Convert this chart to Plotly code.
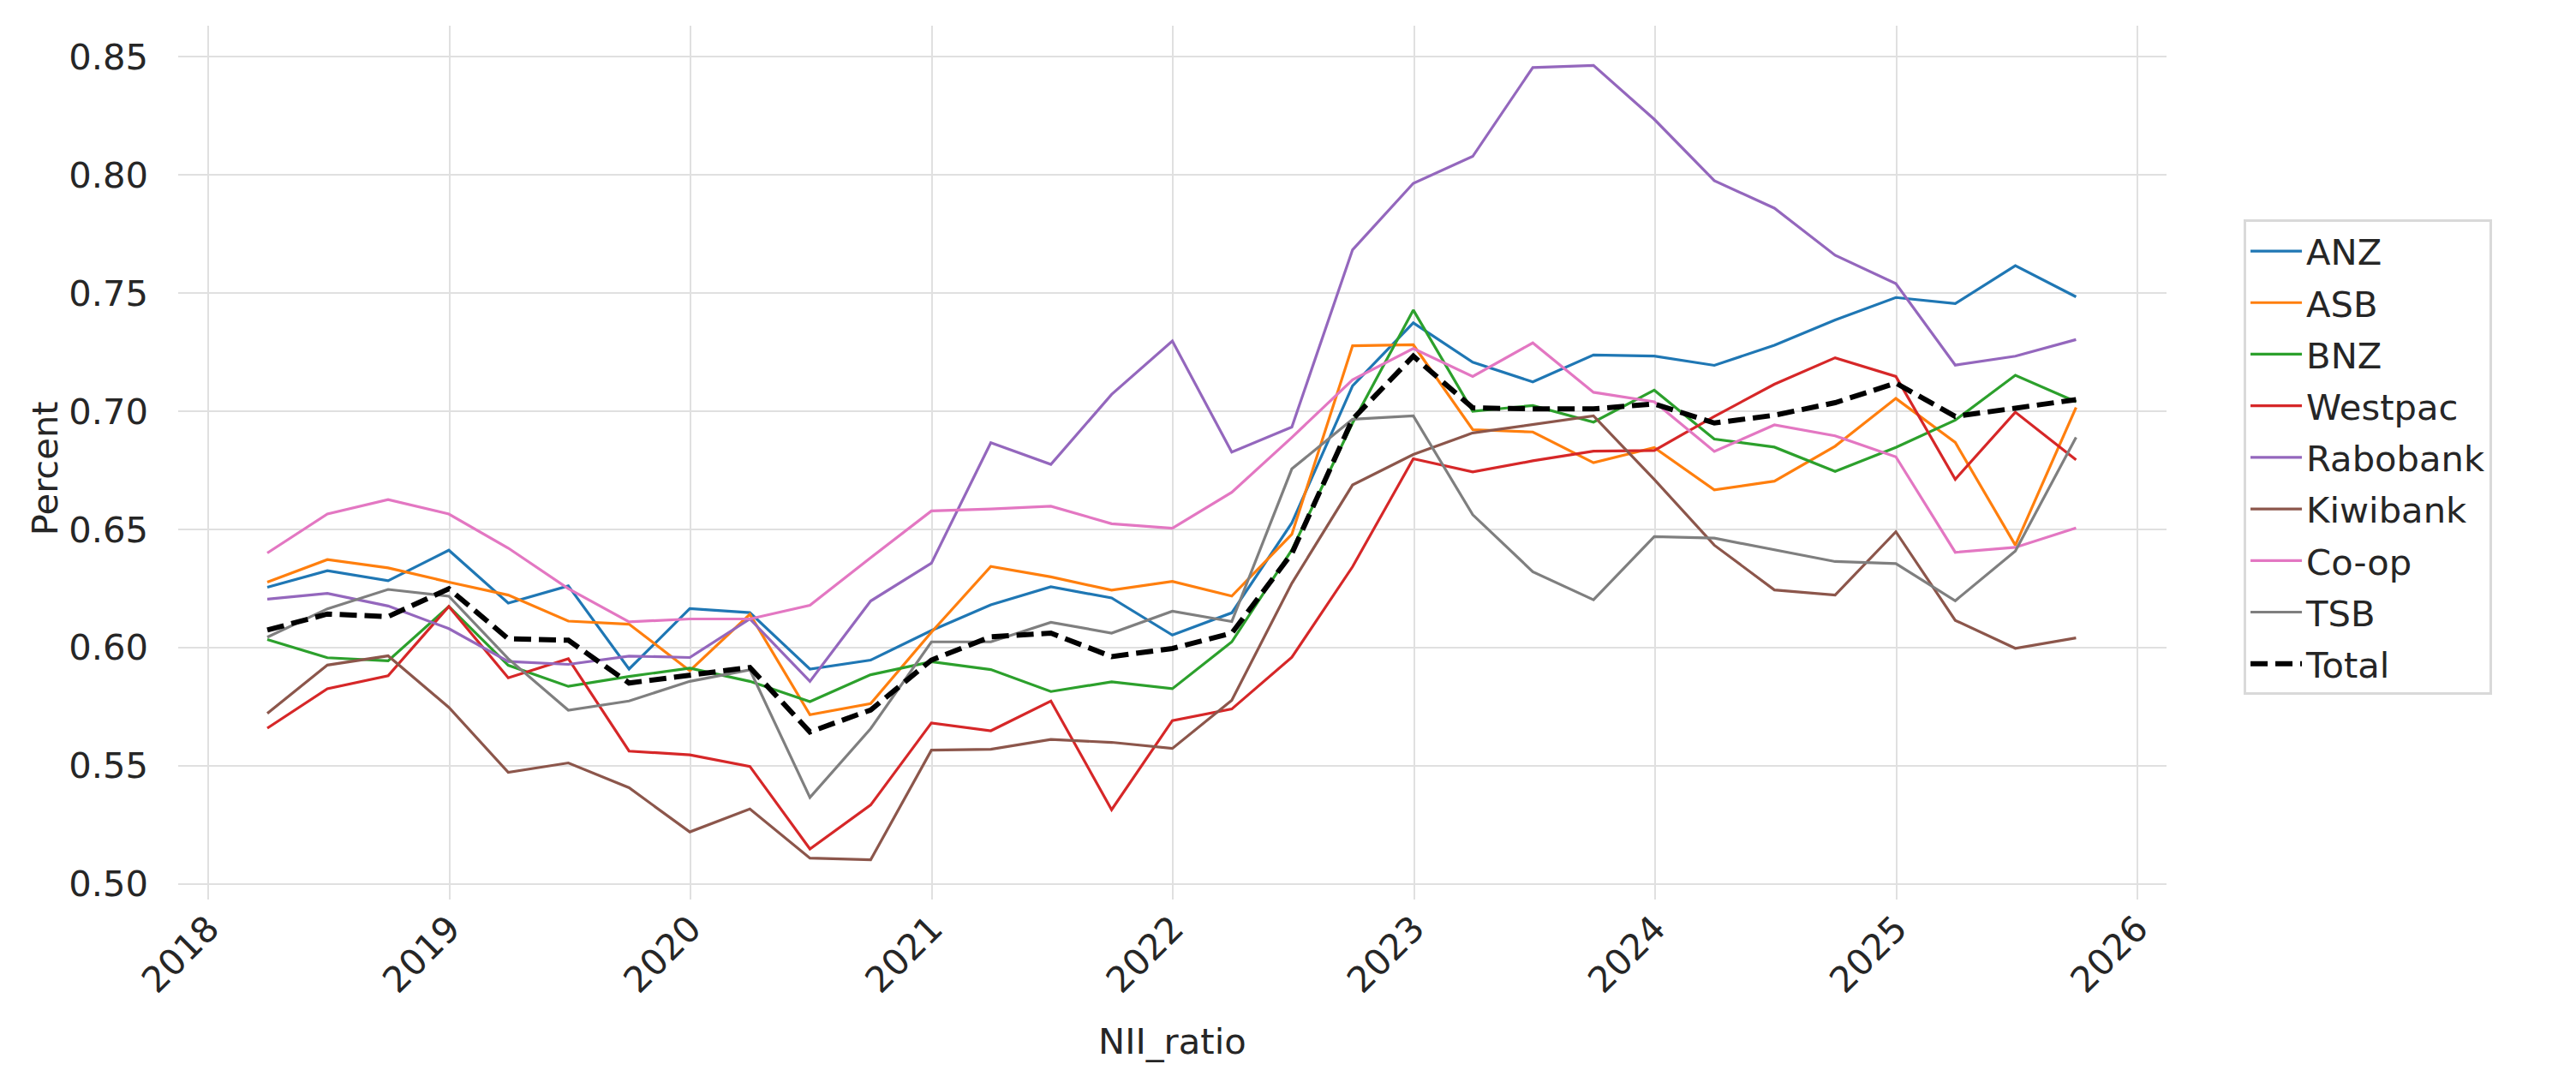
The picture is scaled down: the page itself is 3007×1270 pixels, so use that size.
import plotly.graph_objects as go

dates = [
    "2018-03-31", "2018-06-30", "2018-09-30", "2018-12-31",
    "2019-03-31", "2019-06-30", "2019-09-30", "2019-12-31",
    "2020-03-31", "2020-06-30", "2020-09-30", "2020-12-31",
    "2021-03-31", "2021-06-30", "2021-09-30", "2021-12-31",
    "2022-03-31", "2022-06-30", "2022-09-30", "2022-12-31",
    "2023-03-31", "2023-06-30", "2023-09-30", "2023-12-31",
    "2024-03-31", "2024-06-30", "2024-09-30", "2024-12-31",
    "2025-03-31", "2025-06-30", "2025-09-30",
]

anz = [0.6255, 0.6325, 0.6283, 0.6412, 0.6188, 0.6261, 0.5909, 0.6165, 0.6148, 0.5909, 0.5947,
       0.6072, 0.6181, 0.6257, 0.6210, 0.6053, 0.6147, 0.6527, 0.7107, 0.7374, 0.7207, 0.7124,
       0.7238, 0.7233, 0.7194, 0.7279, 0.7386, 0.7481, 0.7455, 0.7616, 0.7484]
asb = [0.6277, 0.6372, 0.6337, 0.6277, 0.6222, 0.6112, 0.6099, 0.5902, 0.6141, 0.5716, 0.5763,
       0.6065, 0.6343, 0.6299, 0.6243, 0.6280, 0.6218, 0.6479, 0.7277, 0.7281, 0.6922, 0.6912,
       0.6782, 0.6846, 0.6667, 0.6704, 0.6852, 0.7054, 0.6868, 0.6433, 0.7016]
bnz = [0.6034, 0.5957, 0.5944, 0.6174, 0.5925, 0.5836, 0.5878, 0.5913, 0.5857, 0.5771, 0.5885,
       0.5940, 0.5907, 0.5814, 0.5855, 0.5826, 0.6024, 0.6413, 0.6950, 0.7428, 0.7000, 0.7024,
       0.6954, 0.7089, 0.6882, 0.6848, 0.6745, 0.6847, 0.6962, 0.7152, 0.7040]
westpac = [0.5659, 0.5826, 0.5881, 0.6174, 0.5872, 0.5953, 0.5562, 0.5546, 0.5497, 0.5148, 0.5334,
           0.5681, 0.5648, 0.5774, 0.5314, 0.5691, 0.5740, 0.5959, 0.6342, 0.6799, 0.6743, 0.6790,
           0.6831, 0.6834, 0.6978, 0.7114, 0.7226, 0.7147, 0.6712, 0.6996, 0.6794]
rabobank = [0.6205, 0.6229, 0.6176, 0.6080, 0.5941, 0.5929, 0.5964, 0.5958, 0.6121, 0.5857, 0.6197,
            0.6357, 0.6867, 0.6775, 0.7071, 0.7297, 0.6827, 0.6933, 0.7683, 0.7964, 0.8078, 0.8454,
            0.8463, 0.8235, 0.7975, 0.7859, 0.7660, 0.7540, 0.7195, 0.7233, 0.7303]
kiwibank = [0.5721, 0.5926, 0.5965, 0.5747, 0.5472, 0.5512, 0.5407, 0.5220, 0.5317, 0.5109, 0.5102,
            0.5566, 0.5570, 0.5611, 0.5599, 0.5573, 0.5777, 0.6272, 0.6688, 0.6817, 0.6908, 0.6945,
            0.6980, 0.6711, 0.6433, 0.6244, 0.6222, 0.6490, 0.6115, 0.5997, 0.6041]
coop = [0.6400, 0.6565, 0.6626, 0.6565, 0.6421, 0.6249, 0.6109, 0.6121, 0.6121, 0.6179, 0.6380,
        0.6578, 0.6586, 0.6598, 0.6524, 0.6505, 0.6657, 0.6889, 0.7133, 0.7265, 0.7147, 0.7289,
        0.7080, 0.7040, 0.6830, 0.6942, 0.6896, 0.6807, 0.6403, 0.6424, 0.6506]
tsb = [0.6044, 0.6164, 0.6246, 0.6217, 0.5953, 0.5735, 0.5774, 0.5857, 0.5906, 0.5366, 0.5657,
       0.6024, 0.6024, 0.6107, 0.6061, 0.6154, 0.6110, 0.6756, 0.6966, 0.6980, 0.6562, 0.6321,
       0.6202, 0.6469, 0.6463, 0.6413, 0.6364, 0.6355, 0.6198, 0.6408, 0.6889]
total = [0.6074, 0.6142, 0.6131, 0.6249, 0.6037, 0.6031, 0.5850, 0.5885, 0.5916, 0.5643, 0.5736,
         0.5947, 0.6046, 0.6061, 0.5962, 0.5996, 0.6061, 0.6398, 0.6966, 0.7233, 0.7014, 0.7010,
         0.7010, 0.7031, 0.6950, 0.6983, 0.7036, 0.7119, 0.6978, 0.7013, 0.7049]

series_names = ["ANZ", "ASB", "BNZ", "Westpac", "Rabobank", "Kiwibank", "Co-op", "TSB"]
series_values = [anz, asb, bnz, westpac, rabobank, kiwibank, coop, tsb]
colors = ["#1f77b4", "#ff7f0e", "#2ca02c", "#d62728", "#9467bd", "#8c564b", "#e377c2", "#7f7f7f"]

year_ticks = ["2018-01-01", "2019-01-01", "2020-01-01", "2021-01-01", "2022-01-01",
              "2023-01-01", "2024-01-01", "2025-01-01", "2026-01-01"]
year_labels = ["2018", "2019", "2020", "2021", "2022", "2023", "2024", "2025", "2026"]
y_ticks = [0.50, 0.55, 0.60, 0.65, 0.70, 0.75, 0.80, 0.85]
y_labels = ["0.50", "0.55", "0.60", "0.65", "0.70", "0.75", "0.80", "0.85"]

fig = go.Figure()
for name, vals, col in zip(series_names, series_values, colors):
    fig.add_trace(go.Scatter(x=dates, y=vals, mode="lines", name=name, legendgroup=name,
                             line=dict(color=col, width=3.2)))
fig.add_trace(go.Scatter(x=dates, y=total, mode="lines", name="Total", legendgroup="Total",
                         line=dict(color="black", width=6, dash="20px,9px")))

# page body has an 8px margin; compensate so plot sits where it should in the window
W, H = 2991, 1254
ml, mr, mt, mb = 200, 470, 22, 212
font_family = "DejaVu Sans"
txt_color = "#262626"
fs = 41.7

fig.update_layout(
    width=W, height=H,
    margin=dict(l=ml, r=mr, t=mt, b=mb, pad=0),
    paper_bgcolor="white", plot_bgcolor="white",
    font=dict(family=font_family, size=fs, color=txt_color),
    showlegend=True,
    legend=dict(
        x=1.0388, y=0.778, xanchor="left", yanchor="top",
        bgcolor="white", bordercolor="#d9d9d9", borderwidth=3,
        font=dict(family=font_family, size=fs, color=txt_color),
        itemwidth=60, tracegroupgap=3,
    ),
    xaxis=dict(
        type="date",
        range=["2017-11-16", "2026-02-14"],
        tickmode="array", tickvals=year_ticks, ticktext=year_labels,
        tickangle=-45,
        showgrid=True, gridcolor="#e0e0e0", gridwidth=1.5,
        zeroline=False, showline=False, ticks="",
        tickfont=dict(size=fs, color=txt_color),
    ),
    yaxis=dict(
        range=[0.4934, 0.8631],
        tickmode="array", tickvals=y_ticks, ticktext=y_labels,
        showgrid=True, gridcolor="#e0e0e0", gridwidth=1.5,
        zeroline=False, showline=False, ticks="",
        ticklabelstandoff=34,
        tickfont=dict(size=fs, color=txt_color),
    ),
    annotations=[
        dict(text="Percent", xref="paper", yref="paper", x=-0.0672, y=0.493,
             xanchor="center", yanchor="middle", textangle=-90, showarrow=False,
             font=dict(family=font_family, size=fs, color=txt_color)),
        dict(text="NII_ratio", xref="paper", yref="paper", x=0.5, y=-0.1627,
             xanchor="center", yanchor="middle", showarrow=False,
             font=dict(family=font_family, size=fs, color=txt_color)),
    ],
)

fig.write_html("out.html")
